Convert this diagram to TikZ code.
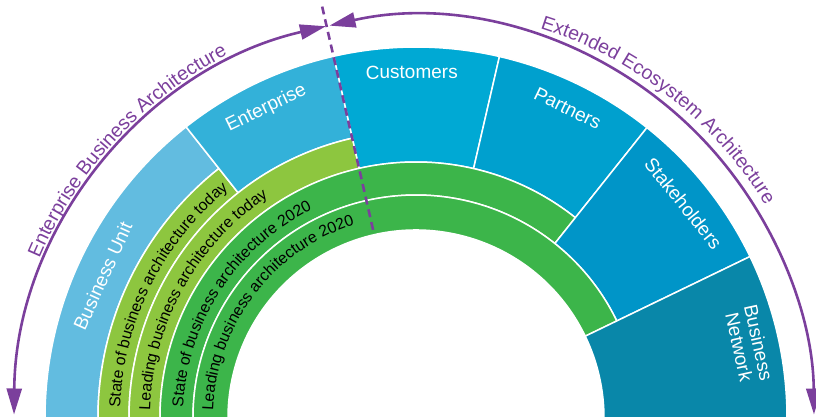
\documentclass[tikz,border=0pt]{standalone}
\usepackage{fontspec}
\setmainfont{Liberation Sans}
\usetikzlibrary{arrows.meta,decorations.text}
\definecolor{cBU}{HTML}{62BCE0}
\definecolor{cEnt}{HTML}{33B1D9}
\definecolor{cCus}{HTML}{00A9D4}
\definecolor{cPar}{HTML}{00A0CE}
\definecolor{cSta}{HTML}{0095C8}
\definecolor{cNet}{HTML}{0987A9}
\definecolor{cLG}{HTML}{8DC63F}
\definecolor{cDG}{HTML}{3CB54A}
\definecolor{cPur}{HTML}{7B3F9C}
\newcommand\ringseg[5]{%
  \filldraw[fill=#1, draw=white, line width=1.5pt] (#4:#3pt) arc[start angle=#4, end angle=#5, radius=#3pt] -- (#5:#2pt) arc[start angle=#5, end angle=#4, radius=#2pt] -- cycle;}
\newcommand\bandfont{\fontsize{15.8}{18}\selectfont}
\newcommand\arcfont{\fontsize{19.5}{22}\selectfont\color{cPur}}
\begin{document}
\begin{tikzpicture}[x=1pt,y=1pt,
  seglabel/.style={text=white, font=\fontsize{19}{20}\selectfont, inner sep=0pt, align=center},
  archarrow/.style={draw=cPur, line width=2.6pt, {Triangle[length=26pt,width=15pt]}-{Triangle[length=26pt,width=15pt]}},
  dashdiv/.style={draw=cPur, line width=2.6pt, dash pattern=on 8pt off 5pt}]
\useasboundingbox (-416,2) rectangle (400,418);
\clip (-416,2) rectangle (400,418);
% ring segments
\ringseg{cBU}{318}{371}{180}{128.3}
\ringseg{cLG}{287}{318}{180}{128.3}
\ringseg{cEnt}{287}{371}{128.3}{102.8}
\ringseg{cLG}{256}{287}{180}{102.8}
\ringseg{cCus}{256}{371}{102.8}{77}
\ringseg{cPar}{256}{371}{77}{51.5}
\ringseg{cDG}{223}{256}{180}{51.5}
\ringseg{cSta}{223}{371}{51.5}{25.8}
\ringseg{cDG}{188}{223}{180}{25.8}
\ringseg{cNet}{188}{371}{25.8}{0}
% segment labels
\node[seglabel, rotate=65.6] (lblBU) at (155.6:344pt) {Business Unit};
\node[seglabel, rotate=25.8] (lblEnt) at (115.8:344pt) {Enterprise};
\node[seglabel, rotate=0.7] (lblCus) at (90.7:346pt) {Customers};
\node[seglabel, rotate=-26.1] (lblPar) at (63.9:345pt) {Partners};
\node[seglabel, rotate=-51.2] (lblSta) at (38.8:343pt) {Stakeholders};
\node[seglabel, rotate=-77.6] (lblNet) at (12.4:341pt) {Business\\Network};
% band labels along arcs
\path[decorate, decoration={text along path, text={|\bandfont|State of business architecture today}}]
  (178:296pt) arc[start angle=178, end angle=100, radius=296pt];
\path[decorate, decoration={text along path, text={|\bandfont|Leading business architecture today}}]
  (178.3:266pt) arc[start angle=178.3, end angle=90, radius=266pt];
\path[decorate, decoration={text along path, text={|\bandfont|State of business architecture 2020}}]
  (177.4:233pt) arc[start angle=177.4, end angle=80, radius=233pt];
\path[decorate, decoration={text along path, text={|\bandfont|Leading business architecture 2020}}]
  (178:203pt) arc[start angle=178, end angle=70, radius=203pt];
% dashed divider
\coordinate (dashtop) at (102.85:422pt);
\coordinate (dashbot) at (102.85:192pt);
\draw[dashdiv] (dashtop) -- (dashbot);
% scope arrows
\draw[archarrow] (179.5:402pt) arc[start angle=179.5, end angle=102.95, radius=402pt];
\draw[archarrow] (102.55:398pt and 402pt) arc[start angle=102.55, end angle=0.5, x radius=398pt, y radius=402pt];
% arc labels
\path[decorate, decoration={text along path, text align=center, text={|\arcfont|Enterprise Business Architecture}}]
  (167.25:409pt) arc[start angle=167.25, end angle=107.25, radius=409pt];
\path[decorate, decoration={text along path, text align=center, text={|\arcfont|Extended Ecosystem Architecture}}]
  (81.85:409pt) arc[start angle=81.85, end angle=21.85, radius=409pt];
\end{tikzpicture}
\end{document}
